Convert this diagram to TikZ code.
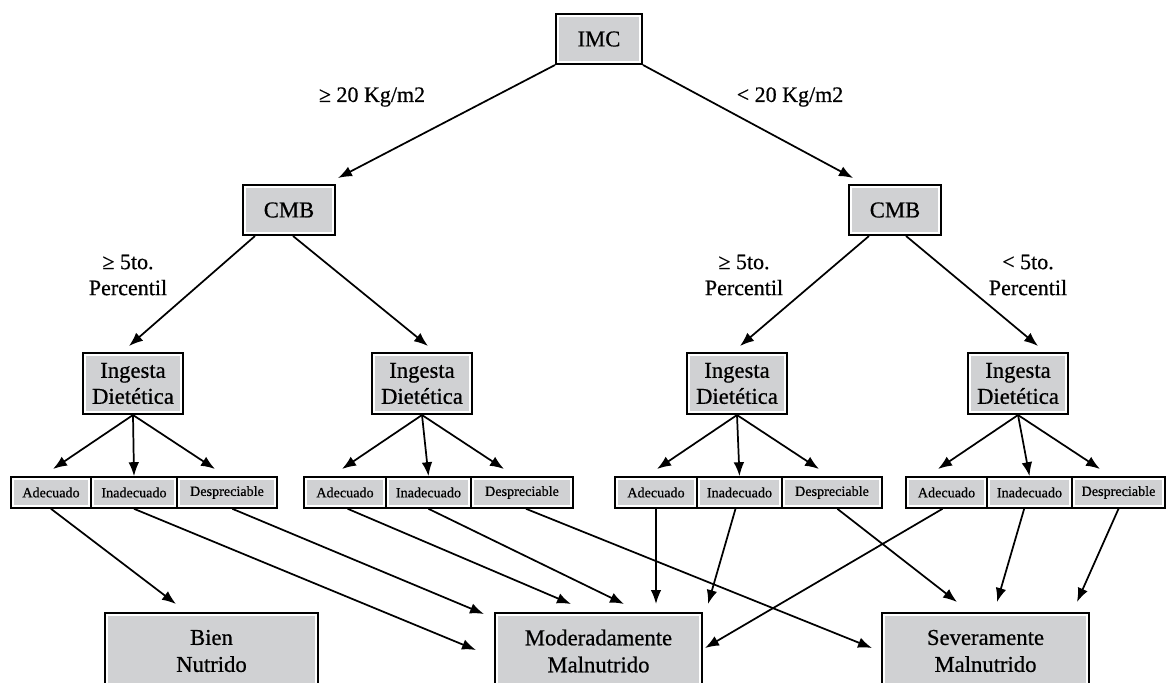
\documentclass[tikz,border=0pt]{standalone}
\usepackage{fontspec}
\setmainfont{Liberation Serif}[FakeBold=0.6]
\usetikzlibrary{arrows.meta,calc}
\definecolor{boxgray}{HTML}{D0D1D3}
\tikzset{
  box/.style={draw=black, line width=1.5pt, fill=white, inner sep=0pt, align=center,
    font=\fontsize{17}{20.25}\selectfont,
    path picture={\fill[boxgray] ([shift={(2.4pt,-2.4pt)}]path picture bounding box.north west) rectangle ([shift={(-2.4pt,2.4pt)}]path picture bounding box.south east);}},
  cell/.style={box, line width=1.2pt, minimum height=31*0.75pt, font=\fontsize{10.6}{12}\selectfont},
  lbl/.style={align=center, inner sep=0pt, font=\fontsize{16.5}{19.5}\selectfont},
  arr/.style={-{Latex[length=10.5pt,width=8pt]}, line width=1.3pt}
}
\begin{document}
\begin{tikzpicture}[x=0.75pt,y=-0.75pt]
\useasboundingbox (0,0) rectangle (1169,682);
\clip (0,0) rectangle (1169,682);
% top levels
\node[box, minimum width=86*0.75pt, minimum height=50*0.75pt] (imc) at (599,39) {IMC};
\node[box, minimum width=92*0.75pt, minimum height=50*0.75pt] (cmbL) at (289,210) {CMB};
\node[box, minimum width=92*0.75pt, minimum height=50*0.75pt] (cmbR) at (895,210) {CMB};
\node[lbl] (l20a) at (372,97) {≥ 20 Kg/m2};
\node[lbl] (l20b) at (790,97) {< 20 Kg/m2};
\node[lbl] (p1) at (128,275) {≥ 5to.\\Percentil};
\node[lbl] (p2) at (744,275) {≥ 5to.\\Percentil};
\node[lbl] (p3) at (1028,275) {< 5to.\\Percentil};
% ingesta
\foreach \n/\x in {ingA/133, ingB/422, ingC/737, ingD/1018}
  \node[box, minimum width=100*0.75pt, minimum height=61*0.75pt, font=\fontsize{17}{19.5}\selectfont] (\n) at (\x,383.5) {Ingesta\\Dietética};
% cells
\node[cell, minimum width=80*0.75pt]  (a1) at (51,492.5) {Adecuado};
\node[cell, minimum width=86*0.75pt]  (a2) at (134,492.5) {Inadecuado};
\node[cell, minimum width=100*0.75pt] (a3) at (227,492.5) {Despreciable};
\node[cell, minimum width=82*0.75pt]  (b1) at (345,492.5) {Adecuado};
\node[cell, minimum width=85*0.75pt]  (b2) at (428.5,492.5) {Inadecuado};
\node[cell, minimum width=102*0.75pt] (b3) at (522,492.5) {Despreciable};
\node[cell, minimum width=82*0.75pt]  (c1) at (656,492.5) {Adecuado};
\node[cell, minimum width=85*0.75pt]  (c2) at (739.5,492.5) {Inadecuado};
\node[cell, minimum width=100*0.75pt] (c3) at (832,492.5) {Despreciable};
\node[cell, minimum width=81*0.75pt]  (d1) at (946.5,492.5) {Adecuado};
\node[cell, minimum width=85*0.75pt]  (d2) at (1029.5,492.5) {Inadecuado};
\node[cell, minimum width=93*0.75pt]  (d3) at (1118.5,492.5) {Despreciable};
% outcomes
\node[box, minimum width=213*0.75pt, minimum height=76*0.75pt] (bien) at (211.5,651) {Bien\\Nutrido};
\node[box, minimum width=207*0.75pt, minimum height=76*0.75pt] (mod) at (598.5,651) {Moderadamente\\Malnutrido};
\node[box, minimum width=207*0.75pt, minimum height=76*0.75pt] (sev) at (985.5,651) {Severamente\\Malnutrido};
% arrows top
\draw[arr] (imc.south west) -- ($(cmbL.north east)+(2,-6)$);
\draw[arr] (imc.south east) -- ($(cmbR.north west)+(5,-6)$);
\draw[arr] ($(cmbL.south west)+(13,0)$) -- ($(ingA.north)+(-4,-6)$);
\draw[arr] ($(cmbL.south east)+(-43,0)$) -- ($(ingB.north)+(6,-6)$);
\draw[arr] ($(cmbR.south west)+(21,0)$) -- ($(ingC.north)+(3,-6)$);
\draw[arr] ($(cmbR.south east)+(-36,0)$) -- ($(ingD.north)+(20,-6)$);
% ingesta to cells
\foreach \i/\m in {ingA/a2, ingB/b2, ingC/c2, ingD/d2}{
  \draw[arr] (\i.south) -- ($(\i.south)+(-80,54)$);
  \draw[arr] (\i.south) -- (\m.north);
  \draw[arr] (\i.south) -- ($(\i.south)+(82,54)$);
}
% cells to outcomes
\draw[arr] (a1.south) -- ($(bien.north west)+(72,-8)$);
\draw[arr] (a2.south) -- ($(mod.west)+(-18,-1)$);
\draw[arr] ([xshift=4pt]a3.south) -- ($(mod.north west)+(-10,2)$);
\draw[arr] ([xshift=2pt]b1.south) -- ($(mod.north west)+(77,-8)$);
\draw[arr] (b2.south) -- ($(mod.north west)+(130,-8)$);
\draw[arr] ([xshift=3pt]b3.south) -- ($(sev.west)+(-9,-3)$);
\draw[arr] (c1.south) -- ($(mod.north west)+(162,-8)$);
\draw[arr] ([xshift=-3pt]c2.south) -- ($(mod.north east)+(5,-8)$);
\draw[arr] ([xshift=4pt]c3.south) -- ($(sev.north west)+(76,-10)$);
\draw[arr] ([xshift=-3pt]d1.south) -- ($(mod.east)+(2,-3)$);
\draw[arr] ([xshift=-4pt]d2.south) -- ($(sev.north west)+(116,-10)$);
\draw[arr] (d3.south) -- ($(sev.north west)+(196,-10)$);
\end{tikzpicture}
\end{document}
